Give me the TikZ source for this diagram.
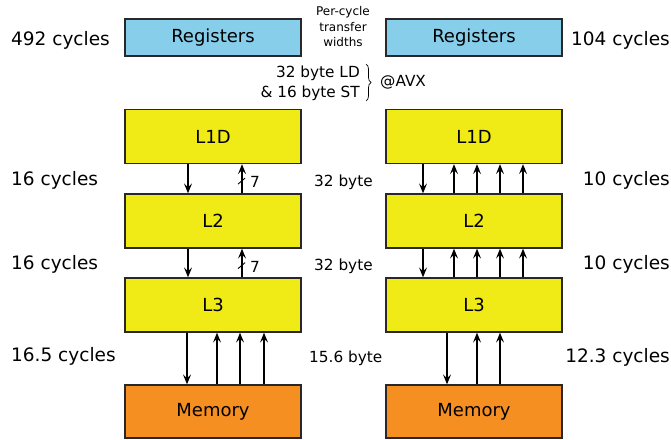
\documentclass[tikz,border=0pt]{standalone}
\usepackage{fontspec}
\setmainfont{DejaVu Sans}
\usetikzlibrary{arrows.meta,calc,decorations.pathreplacing}
\definecolor{regblue}{RGB}{135,206,235}
\definecolor{cacheyellow}{RGB}{240,234,22}
\definecolor{memorange}{RGB}{245,143,34}
\definecolor{edgegray}{RGB}{40,40,40}
\begin{document}
\begin{tikzpicture}[x=1pt,y=-1pt,
  box/.style={draw=edgegray,line width=1.3pt,minimum width=176pt,inner sep=0pt,font=\fontsize{18}{21}\selectfont},
  regbox/.style={box,fill=regblue,minimum height=37pt},
  cachebox/.style={box,fill=cacheyellow,minimum height=54pt},
  membox/.style={box,fill=memorange,minimum height=53pt},
  arr/.style={line width=1.1pt,-{Stealth[length=10pt,width=8pt,inset=4pt]}},
  big/.style={font=\fontsize{18.5}{21}\selectfont,inner sep=0pt},
  mid/.style={font=\fontsize{15.3}{18}\selectfont,inner sep=0pt},
  small/.style={font=\fontsize{12}{15.5}\selectfont,inner sep=0pt,align=center}]
\useasboundingbox (0,0) rectangle (671,439);
% left column
\node[regbox] (RL) at (213,37.5) {Registers};
\node[cachebox] (L1L) at (213,136.5) {L1D};
\node[cachebox] (L2L) at (213,221) {L2};
\node[cachebox] (L3L) at (213,305) {L3};
\node[membox] (ML) at (213,411.5) {Memory};
% right column
\node[regbox] (RR) at (474,37.5) {Registers};
\node[cachebox] (L1R) at (474,136.5) {L1D};
\node[cachebox] (L2R) at (474,221) {L2};
\node[cachebox] (L3R) at (474,305) {L3};
\node[membox] (MR) at (474,411.5) {Memory};
% left arrows
\draw[arr] ($(L1L.south)+(-25,0)$) -- ($(L2L.north)+(-25,0)$);
\draw[arr] ($(L2L.north)+(29,0)$) -- ($(L1L.south)+(29,0)$);
\draw[arr] ($(L2L.south)+(-25,0)$) -- ($(L3L.north)+(-25,0)$);
\draw[arr] ($(L3L.north)+(29,0)$) -- ($(L2L.south)+(29,0)$);
\draw[line width=0.9pt] ($(L1L.south)+(25,20)$) -- ($(L1L.south)+(32,14)$);
\draw[line width=0.9pt] ($(L2L.south)+(25,20)$) -- ($(L2L.south)+(32,14)$);
\node[mid,anchor=west] (s1) at ($(L1L.south)+(37,18)$) {7};
\node[mid,anchor=west] (s2) at ($(L2L.south)+(37,18)$) {7};
\draw[arr] ($(L3L.south)+(-26,0)$) -- ($(ML.north)+(-26,0)$);
\foreach \dx in {4,27,51} \draw[arr] ($(ML.north)+(\dx,0)$) -- ($(L3L.south)+(\dx,0)$);
% right arrows
\draw[arr] ($(L1R.south)+(-51,0)$) -- ($(L2R.north)+(-51,0)$);
\foreach \dx in {-20,3,26,49} \draw[arr] ($(L2R.north)+(\dx,0)$) -- ($(L1R.south)+(\dx,0)$);
\draw[arr] ($(L2R.south)+(-51,0)$) -- ($(L3R.north)+(-51,0)$);
\foreach \dx in {-20,3,26,49} \draw[arr] ($(L3R.north)+(\dx,0)$) -- ($(L2R.south)+(\dx,0)$);
\draw[arr] ($(L3R.south)+(-27,0)$) -- ($(MR.north)+(-27,0)$);
\foreach \dx in {3,26} \draw[arr] ($(MR.north)+(\dx,0)$) -- ($(L3R.south)+(\dx,0)$);
% labels
\node[big,anchor=west] (c1) at (11,40) {492 cycles};
\node[big,anchor=east] (c2) at (670,40) {104 cycles};
\node[small] (pc) at (343,27) {Per-cycle\\transfer\\widths};
\node[mid,anchor=east,align=right,font=\fontsize{15.3}{20}\selectfont] (ldst) at (360,83) {32 byte LD\\\& 16 byte ST};
\draw[line width=0.7pt,decorate,decoration={brace,amplitude=5pt}] (366,64) -- (366,101) coordinate[midway] (bm);
\node[mid,anchor=west] (avx) at (380,82) {@AVX};
\node[big,anchor=west] (c3) at (11,180) {16 cycles};
\node[big,anchor=west] (c4) at (11,264) {16 cycles};
\node[big,anchor=west] (c5) at (11,356) {16.5 cycles};
\node[mid,anchor=west] (b1) at (314,182) {32 byte};
\node[mid,anchor=west] (b2) at (314,266) {32 byte};
\node[mid,anchor=west] (b3) at (309,358) {15.6 byte};
\node[big,anchor=east] (c6) at (670,180) {10 cycles};
\node[big,anchor=east] (c7) at (670,264) {10 cycles};
\node[big,anchor=east] (c8) at (670,357) {12.3 cycles};
\end{tikzpicture}
\end{document}
